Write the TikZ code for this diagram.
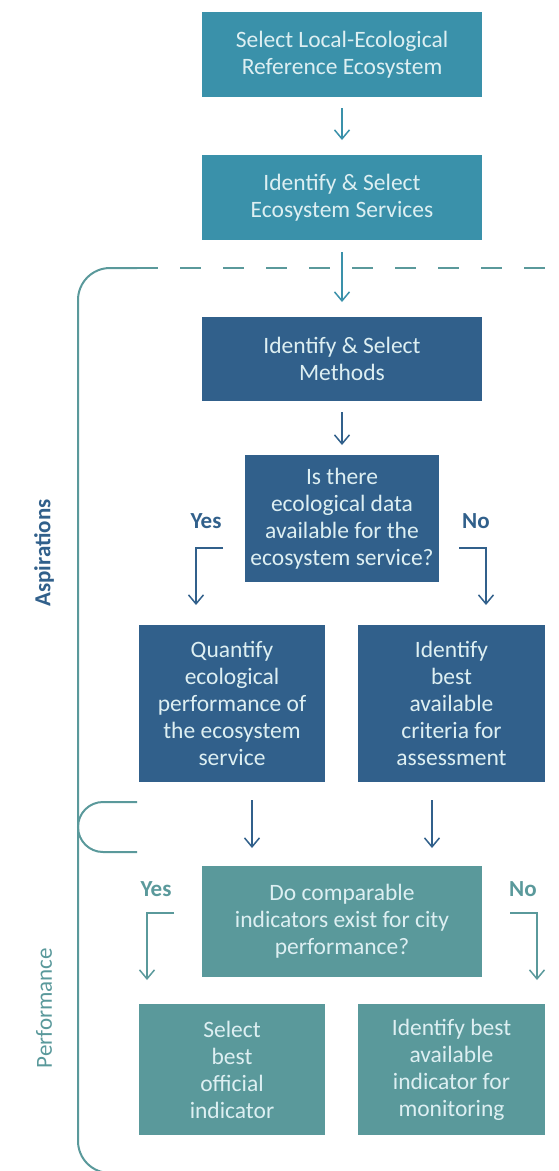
\documentclass[tikz,border=0pt]{standalone}
\usepackage{fontspec}
\setmainfont{Carlito}
\usetikzlibrary{arrows.meta}
\definecolor{skyteal}{HTML}{3A91AA}
\definecolor{deepblue}{HTML}{31608B}
\definecolor{seateal}{HTML}{5A999B}
\definecolor{paletext}{HTML}{DDEFF2}
\tikzstyle{every node}=[inner sep=0pt, outer sep=0pt]
\tikzset{box/.style={rectangle, text=paletext, align=center,
      font=\fontsize{23.5}{27}\selectfont}}
\tikzset{flow/.style={line width=1.5pt, -{Straight Barb[length=9pt,width=15pt,line width=1.5pt]}}}
\tikzset{side/.style={font=\fontsize{23}{26}\bfseries\selectfont}}

\begin{document}
\begin{tikzpicture}[x=1pt,y=-1pt]
    \useasboundingbox (0,0) rectangle (558,1171);
    % top of the chain
    \node[box, fill=skyteal, minimum width=280pt, minimum height=85pt] (refeco) at (342,54.5)
      {Select Local-Ecological\\Reference Ecosystem};
    \node[box, fill=skyteal, minimum width=280pt, minimum height=85pt] (services) at (342,197.5)
      {Identify \& Select\\Ecosystem Services};
    \node[box, fill=deepblue, minimum width=280pt, minimum height=84pt] (methods) at (342,359)
      {Identify \& Select\\Methods};
    \node[box, fill=deepblue, minimum width=194pt, minimum height=127pt] (ecodata) at (342,518.5)
      {Is there\\ecological data\\available for the\\ecosystem service?};
    \node[box, fill=deepblue, minimum width=186pt, minimum height=157pt] (quantify) at (232,703.5)
      {Quantify\\ecological\\performance of\\the ecosystem\\service};
    \node[box, fill=deepblue, minimum width=187pt, minimum height=157pt] (criteria) at (451.5,703.5)
      {Identify\\best\\available\\criteria for\\assessment};
    % performance part
    \node[box, fill=seateal, minimum width=280pt, minimum height=111pt] (cityind) at (342,921.5)
      {Do comparable\\indicators exist for city\\performance?};
    \node[box, fill=seateal, minimum width=186pt, minimum height=131pt] (official) at (232,1069.5)
      {Select\\best\\official\\indicator};
    \node[box, fill=seateal, minimum width=187pt, minimum height=131pt] (monitor) at (451.5,1069.5)
      {Identify best\\available\\indicator for\\monitoring};

    \draw[flow, skyteal, shorten <=11pt, shorten >=15pt] (refeco) -- (services);
    \draw[flow, skyteal, shorten <=12pt, shorten >=15pt] (services) -- (methods);
    \draw[flow, deepblue, shorten <=11pt, shorten >=10pt] (methods) -- (ecodata);
    \draw[flow, deepblue, shorten <=18pt, shorten >=18pt] ([xshift=20pt]quantify.south) -- ([xshift=20pt]quantify.south |- cityind.north);
    \draw[flow, deepblue, shorten <=18pt, shorten >=18pt] ([xshift=-19.5pt]criteria.south) -- ([xshift=-19.5pt]criteria.south |- cityind.north);

    % yes / no branches
    \coordinate (yesA) at (223,548);
    \coordinate (yesB) at (196,605);
    \coordinate (noA) at (459,548);
    \coordinate (noB) at (486,605);
    \draw[flow, deepblue] (yesA) -| (yesB);
    \draw[flow, deepblue] (noA) -| (noB);
    \node[side, text=deepblue] (yesdata) at (206,521) {Yes};
    \node[side, text=deepblue] (nodata) at (476,521) {No};

    \coordinate (yesC) at (174,913);
    \coordinate (yesD) at (147,980);
    \coordinate (noC) at (510,913);
    \coordinate (noD) at (537,980);
    \draw[flow, seateal] (yesC) -| (yesD);
    \draw[flow, seateal] (noC) -| (noD);
    \node[side, text=seateal] (yescity) at (156,889) {Yes};
    \node[side, text=seateal] (nocity) at (523,889) {No};

    % brackets
    \draw[seateal, line width=2pt, rounded corners=32pt] (137,268) -- (78,268) -- (78,1173) -- (150,1173);
    \draw[seateal, line width=2pt, dash pattern=on 21pt off 22pt] (137,268) -- (548,268);
    \draw[seateal, line width=2pt] (137,802) -- (103,802) arc[start angle=90, end angle=270, radius=25pt] -- (137,852);
    \node[side, text=deepblue, rotate=90] (aspire) at (44,553) {Aspirations};
    \node[side, text=seateal, rotate=90, font=\fontsize{23}{26}\selectfont] (perform) at (44,1008) {Performance};
\end{tikzpicture}
\end{document}
